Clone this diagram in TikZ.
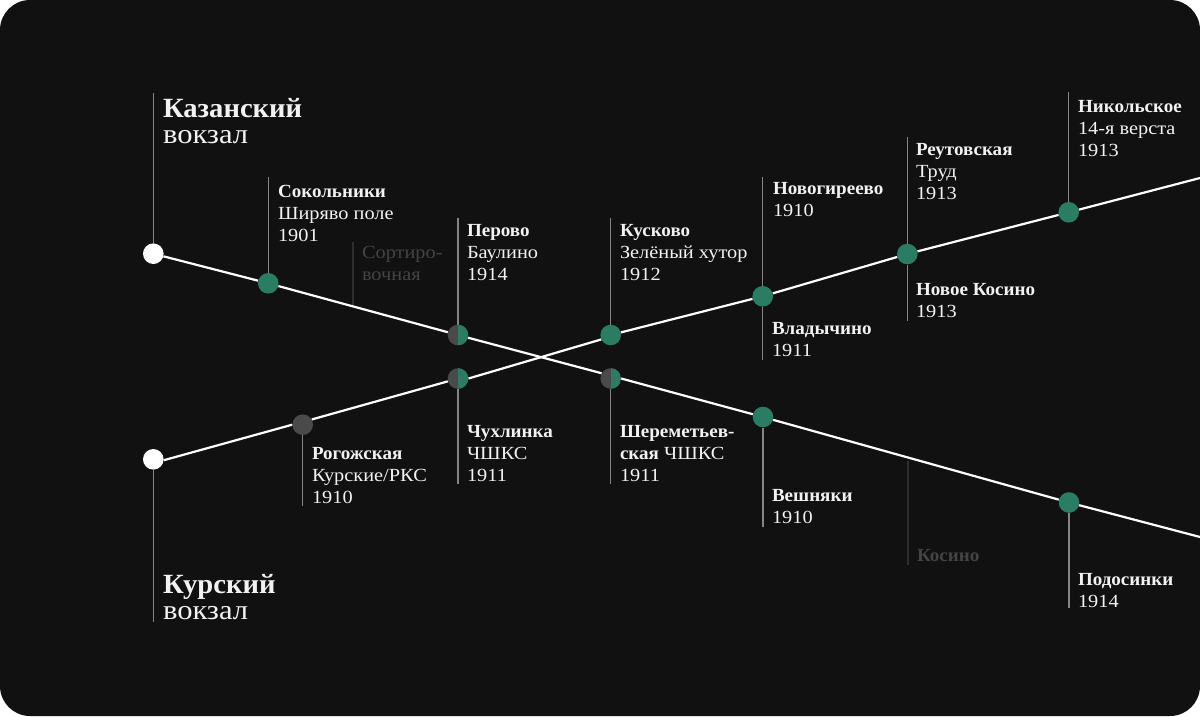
\documentclass[tikz,border=0pt]{standalone}
\usepackage{fontspec}
\setmainfont[FakeStretch=1.10,BoldFeatures={FakeStretch=1.03}]{Liberation Serif}
\definecolor{bgc}{HTML}{111111}
\definecolor{grn}{HTML}{2A7D63}
\definecolor{gry}{HTML}{4A4A4A}
\definecolor{stemc}{HTML}{858585}
\definecolor{dimstem}{HTML}{2E2E2E}
\definecolor{dimtext}{HTML}{444444}
\definecolor{txt}{HTML}{F2F2F2}
\tikzset{
 dotg/.style={circle,fill=grn,minimum size=20.6pt,inner sep=0pt},
 dotd/.style={circle,fill=gry,minimum size=20.6pt,inner sep=0pt},
 dots/.style={circle,fill=gry,minimum size=20.6pt,inner sep=0pt,path picture={\fill[grn] (path picture bounding box.north) rectangle (path picture bounding box.south east);}},
 dotw/.style={circle,fill=white,minimum size=20.6pt,inner sep=0pt},
 track/.style={draw=white,line width=2.2pt},
 stem/.style={draw=stemc,line width=1.3pt},
 dimst/.style={draw=dimstem,line width=1.2pt},
 lab/.style={anchor=base west,inner sep=0pt,outer sep=0pt,text=txt,align=left,font=\fontsize{18.5}{22}\selectfont},
 biglab/.style={anchor=base west,inner sep=0pt,outer sep=0pt,text=txt,align=left,font=\fontsize{27.8}{26}\selectfont},
 dimlab/.style={lab,text=dimtext},
}
\begin{document}
\begin{tikzpicture}[x=1pt,y=-1pt]
\useasboundingbox (0,0) rectangle (1200,716);
\fill[white] (0,0) rectangle (1200,716);
\fill[bgc,rounded corners=30pt] (0,0) rectangle (1200,716);
% free ends
\coordinate (kzE) at (1200,537);
\coordinate (kuE) at (1200,178);
\foreach \n/\x/\y in {tkz/153.3/93,tsok/268.3/177,tsor/353/242,bsor/353/305,tper/458/218,tkus/610.7/218,tnov/762.7/177,bvla/762.7/360,trn/907.3/137,bkos/907.3/321,tnik/1068.7/92,bkur/153.3/622,brog/302.7/506,bchu/458/484,bshe/610.7/484,bves/763/527,tksn/908/461,bksn/908/565,bpod/1069/608}
  \coordinate (\n) at (\x,\y);
% station nodes
\node[dotw] (kz) at (153.3,253.7) {};
\node[dotg] (sok) at (268.3,283.3) {};
\node[dots] (per) at (458,335) {};
\node[dots] (she) at (610.7,378.5) {};
\node[dotg] (ves) at (763,417) {};
\node[dotg] (pod) at (1069,502.5) {};
\node[dotw] (ku) at (153.3,459.3) {};
\node[dotd] (rog) at (302.7,424.7) {};
\node[dots] (chu) at (458,378.5) {};
\node[dotg] (kus) at (610.7,335) {};
\node[dotg] (nov) at (762.7,296.3) {};
\node[dotg] (reu) at (907.3,254) {};
\node[dotg] (nik) at (1068.7,212.3) {};
% stems
\draw[stem] (tkz) -- (kz);
\draw[stem] (tsok) -- (sok);
\draw[dimst] (tsor) -- (bsor);
\draw[stem] (tper) -- (per);
\draw[stem] (tkus) -- (kus);
\draw[stem] (tnov) -- (nov);
\draw[stem] (nov) -- (bvla);
\draw[stem] (trn) -- (reu);
\draw[stem] (reu) -- (bkos);
\draw[stem] (tnik) -- (nik);
\draw[stem] (ku) -- (bkur);
\draw[stem] (rog) -- (brog);
\draw[stem] (chu) -- (bchu);
\draw[stem] (she) -- (bshe);
\draw[stem] (ves) -- (bves);
\draw[dimst] (tksn) -- (bksn);
\draw[stem] (pod) -- (bpod);
% tracks
\draw[track] (kz) -- (sok);
\draw[track] (sok) -- (per);
\draw[track] (per.-15) -- (she.150);
\draw[track] (she.east) -- (ves);
\draw[track] (ves) -- (pod);
\draw[track] (pod) -- (kzE);
\draw[track] (ku.-5) -- (rog.west);
\draw[track] (rog.30) -- (chu);
\draw[track] (chu.east) -- (kus.205);
\draw[track] (kus) -- (nov);
\draw[track] (nov) -- (reu);
\draw[track] (reu) -- (nik);
\draw[track] (nik) -- (kuE);
% labels (y is the baseline of the last line)
\node[biglab] (lkz) at (163,143) {\textbf{Казанский}\\вокзал};
\node[biglab] (lku) at (163,619) {\textbf{Курский}\\вокзал};
\node[lab] (lsok) at (278,241) {\textbf{Сокольники}\\Ширяво поле\\1901};
\node[dimlab] (lsor) at (362,280) {Сортиро-\\вочная};
\node[lab] (lper) at (467,280) {\textbf{Перово}\\Баулино\\1914};
\node[lab] (lkus) at (620,280) {\textbf{Кусково}\\Зелёный хутор\\1912};
\node[lab] (lnov) at (773,216) {\textbf{Новогиреево}\\1910};
\node[lab] (lvla) at (772,356) {\textbf{Владычино}\\1911};
\node[lab] (lreu) at (916,199) {\textbf{Реутовская}\\Труд\\1913};
\node[lab] (lkos) at (916,317) {\textbf{Новое Косино}\\1913};
\node[lab] (lnik) at (1078,156) {\textbf{Никольское}\\14-я верста\\1913};
\node[lab] (lrog) at (312,503) {\textbf{Рогожская}\\Курские/РКС\\1910};
\node[lab] (lchu) at (467,481) {\textbf{Чухлинка}\\ЧШКС\\1911};
\node[lab] (lshe) at (620,481) {\textbf{Шереметьев-}\\\textbf{ская} ЧШКС\\1911};
\node[lab] (lves) at (772,523) {\textbf{Вешняки}\\1910};
\node[dimlab] (lksn) at (917,561) {\textbf{Косино}};
\node[lab] (lpod) at (1078,607) {\textbf{Подосинки}\\1914};
\end{tikzpicture}
\end{document}
